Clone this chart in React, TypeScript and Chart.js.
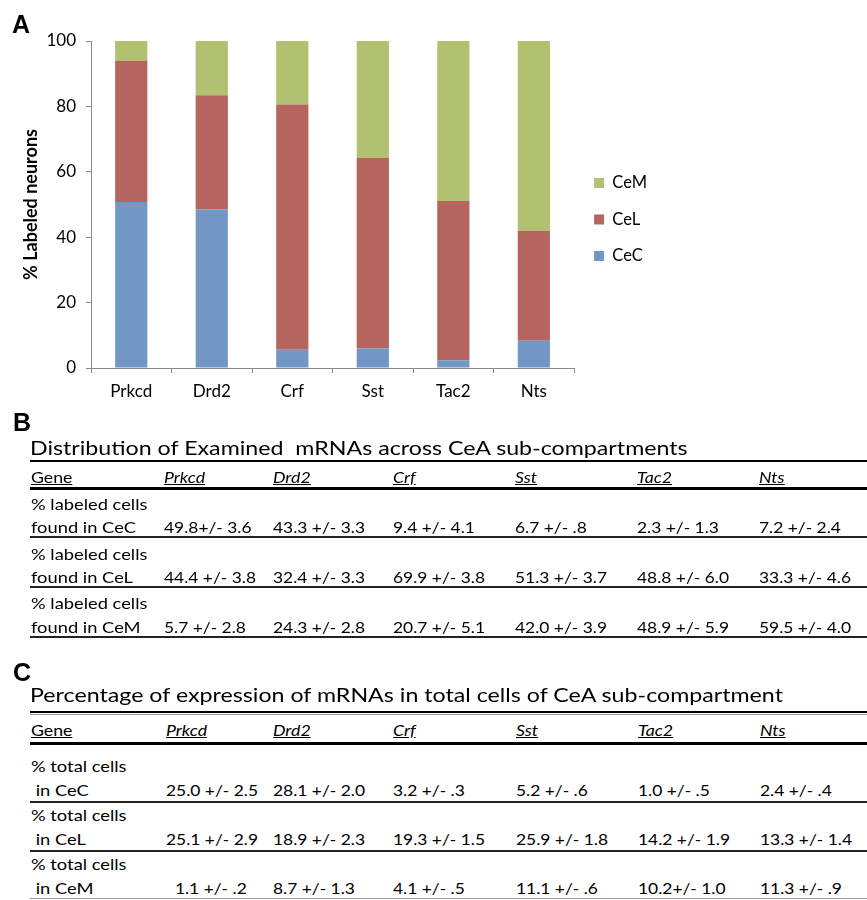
import React, { useEffect, useRef } from 'react';
import { Chart, registerables } from 'chart.js';

Chart.register(...registerables);

// ---------- Chart data (panel A) ----------
const categories = ['Prkcd', 'Drd2', 'Crf', 'Sst', 'Tac2', 'Nts'];
const cecShare = [50.8, 48.5, 5.6, 6.0, 2.4, 8.3];
const celShare = [43.1, 34.9, 75.0, 58.3, 48.7, 33.7];
const cemShare = [6.1, 16.6, 19.4, 35.7, 48.9, 58.0];
const yTickValues = [0, 20, 40, 60, 80, 100];
const seriesNames = ['CeC', 'CeL', 'CeM'];
const yAxisTitle = '% Labeled neurons';

// ---------- Table data (panels B and C) ----------
const tableGenes = ['Prkcd', 'Drd2', 'Crf', 'Sst', 'Tac2', 'Nts'];
const geneHeader = 'Gene';
const tableBTitle = 'Distribution of Examined  mRNAs across CeA sub-compartments';
const tableBRowLabels = [
  ['% labeled cells', 'found in CeC'],
  ['% labeled cells', 'found in CeL'],
  ['% labeled cells', 'found in CeM'],
];
const tableBCeC = ['49.8+/- 3.6', '43.3 +/- 3.3', '9.4 +/- 4.1', '6.7 +/- .8', '2.3 +/- 1.3', '7.2 +/- 2.4'];
const tableBCeL = ['44.4 +/- 3.8', '32.4 +/- 3.3', '69.9 +/- 3.8', '51.3 +/- 3.7', '48.8 +/- 6.0', '33.3 +/- 4.6'];
const tableBCeM = ['5.7 +/- 2.8', '24.3 +/- 2.8', '20.7 +/- 5.1', '42.0 +/- 3.9', '48.9 +/- 5.9', '59.5 +/- 4.0'];

const tableCTitle = 'Percentage of expression of mRNAs in total cells of CeA sub-compartment';
const tableCRowLabels = [
  ['% total cells', ' in CeC'],
  ['% total cells', ' in CeL'],
  ['% total cells', ' in CeM'],
];
const tableCCeC = ['25.0 +/- 2.5', '28.1 +/- 2.0', '3.2 +/- .3', '5.2 +/- .6', '1.0 +/- .5', '2.4 +/- .4'];
const tableCCeL = ['25.1 +/- 2.9', '18.9 +/- 2.3', '19.3 +/- 1.5', '25.9 +/- 1.8', '14.2 +/- 1.9', '13.3 +/- 1.4'];
const tableCCeM = ['  1.1 +/- .2', '8.7 +/- 1.3', '4.1 +/- .5', '11.1 +/- .6', '10.2+/- 1.0', '11.3 +/- .9'];

// ---------- Styles ----------
const FONT = 'Lato, "Noto Sans", sans-serif';
const LETTER_FONT = '"Liberation Sans", Arial, sans-serif';
const AXIS = '#8a8a8a';
const COL_CEC = '#7297c6';
const COL_CEL = '#b5645e';
const COL_CEM = '#b2c170';
const BODY = 15;
const TITLE = 20;
const SX_VALUE = 1.16;
const SX_LABEL = 1.22;
const SX_HEAD = 1.18;
const SX_TITLE = 1.16;

type TProps = {
  x: number;
  base: number;
  size: number;
  children: React.ReactNode;
  italic?: boolean;
  underline?: boolean;
  bold?: boolean;
  letter?: boolean;
  sx?: number;
};

function T({ x, base, size, children, italic, underline, bold, letter, sx }: TProps) {
  const asc = letter ? 0.9465 : 0.987;
  return (
    <div
      style={{
        position: 'absolute',
        left: x,
        top: base - asc * size,
        fontSize: size,
        lineHeight: `${1.2 * size}px`,
        fontFamily: letter ? LETTER_FONT : FONT,
        fontStyle: italic ? 'italic' : 'normal',
        fontWeight: bold || letter ? 700 : 400,
        textDecoration: underline ? 'underline' : 'none',
        whiteSpace: 'pre',
        color: '#000',
        transform: `scaleX(${sx ?? 1})`,
        transformOrigin: '0 0',
      }}
    >
      {children}
    </div>
  );
}

function HLine({ y, h, color = '#000' }: { y: number; h: number; color?: string }) {
  return <div style={{ position: 'absolute', left: 30, width: 837, top: y, height: h, background: color }} />;
}

type TableSpec = {
  title: string;
  titleBase: number;
  headerBase: number;
  cols: number[];
  rowLabels: string[][];
  rows: string[][];
  line1Base: number[];
  line2Base: number[];
};

function DataTable({ spec }: { spec: TableSpec }) {
  const { title, titleBase, headerBase, cols, rowLabels, rows, line1Base, line2Base } = spec;
  return (
    <>
      <T x={30} base={titleBase} size={TITLE} sx={SX_TITLE}>{title}</T>
      <T x={cols[0]} base={headerBase} size={BODY} sx={SX_HEAD} underline>{geneHeader}</T>
      {tableGenes.map((g, i) => (
        <T key={g} x={cols[i + 1]} base={headerBase} size={BODY} sx={SX_HEAD} italic underline>{g}</T>
      ))}
      {rows.map((vals, r) => (
        <React.Fragment key={r}>
          <T x={cols[0]} base={line1Base[r]} size={BODY} sx={SX_LABEL}>{rowLabels[r][0]}</T>
          <T x={cols[0]} base={line2Base[r]} size={BODY} sx={SX_LABEL}>{rowLabels[r][1]}</T>
          {vals.map((v, i) => (
            <T key={i} x={cols[i + 1]} base={line2Base[r]} size={BODY} sx={SX_VALUE}>{v}</T>
          ))}
        </React.Fragment>
      ))}
    </>
  );
}

function BarChart() {
  const ref = useRef<HTMLCanvasElement | null>(null);
  useEffect(() => {
    if (!ref.current) return;
    const tickFont = { family: FONT, size: 17 };
    const chart = new Chart(ref.current, {
      type: 'bar',
      data: {
        labels: categories,
        datasets: [
          { label: seriesNames[0], data: cecShare, backgroundColor: COL_CEC, borderWidth: 0 },
          { label: seriesNames[1], data: celShare, backgroundColor: COL_CEL, borderWidth: 0 },
          { label: seriesNames[2], data: cemShare, backgroundColor: COL_CEM, borderWidth: 0 },
        ],
      },
      options: {
        responsive: false,
        animation: false,
        datasets: { bar: { barPercentage: 0.4, categoryPercentage: 1.0 } },
        layout: { padding: { top: 41, left: 0, right: 0, bottom: 2 } },
        plugins: {
          legend: {
            position: 'right',
            reverse: true,
            labels: {
              boxWidth: 10,
              boxHeight: 10,
              padding: 20,
              color: '#000',
              font: { family: FONT, size: 16.5 },
            },
          },
          tooltip: { enabled: false },
          title: { display: false },
        },
        scales: {
          x: {
            stacked: true,
            grid: { display: true, drawOnChartArea: false, drawTicks: true, tickLength: 5, color: AXIS, offset: true },
            border: { display: true, color: AXIS, width: 1 },
            ticks: { color: '#000', font: tickFont, padding: 8, maxRotation: 0 },
            afterFit: (s: any) => { s.height = 30; },
          },
          y: {
            stacked: true,
            min: 0,
            max: 100,
            grid: { display: true, drawOnChartArea: false, drawTicks: true, tickLength: 5, color: AXIS },
            border: { display: true, color: AXIS, width: 1 },
            ticks: { color: '#000', font: tickFont, padding: 10, stepSize: 20 },
            afterBuildTicks: (s: any) => { s.ticks = yTickValues.map((v) => ({ value: v })); },
            title: {
              display: true,
              text: yAxisTitle,
              color: '#000',
              font: { family: FONT, size: 18, weight: 'bold' },
              padding: { top: 20, bottom: 0 },
            },
            afterFit: (s: any) => { s.width = 91; },
          },
        },
      } as any,
    });
    return () => chart.destroy();
  }, []);
  return (
    <canvas
      ref={ref}
      width={657}
      height={400}
      style={{ position: 'absolute', left: 0, top: 0, width: 657, height: 400 }}
    />
  );
}

const colsB = [31, 164, 273, 393, 515, 637, 759];
const colsC = [31, 166, 273, 393, 516, 638, 760];

export default function App() {
  const specB: TableSpec = {
    title: tableBTitle,
    titleBase: 455,
    headerBase: 483,
    cols: colsB,
    rowLabels: tableBRowLabels,
    rows: [tableBCeC, tableBCeL, tableBCeM],
    line1Base: [510, 560, 609],
    line2Base: [533, 583, 633],
  };
  const specC: TableSpec = {
    title: tableCTitle,
    titleBase: 702,
    headerBase: 736,
    cols: colsC,
    rowLabels: tableCRowLabels,
    rows: [tableCCeC, tableCCeL, tableCCeM],
    line1Base: [772, 821, 870],
    line2Base: [796, 845, 894],
  };
  return (
    <div style={{ position: 'absolute', left: 0, top: 0, width: 867, height: 900, overflow: 'hidden', background: '#fff' }}>
      <BarChart />
      <T x={12} base={33} size={25} letter>A</T>
      <T x={13} base={431} size={25} letter>B</T>
      <T x={13} base={681} size={25} letter>C</T>

      {/* Panel B rules */}
      <HLine y={460} h={2} />
      <HLine y={487} h={3} />
      <HLine y={536} h={2} color="#222" />
      <HLine y={586} h={2} color="#222" />
      <HLine y={636} h={2} color="#222" />
      <DataTable spec={specB} />

      {/* Panel C rules */}
      <HLine y={711} h={2} />
      <HLine y={714} h={1} color="#9a9a9a" />
      <HLine y={742} h={3} />
      <HLine y={801} h={2} color="#222" />
      <HLine y={850} h={2} color="#222" />
      <HLine y={898} h={1} color="#9a9a9a" />
      <DataTable spec={specC} />
    </div>
  );
}
